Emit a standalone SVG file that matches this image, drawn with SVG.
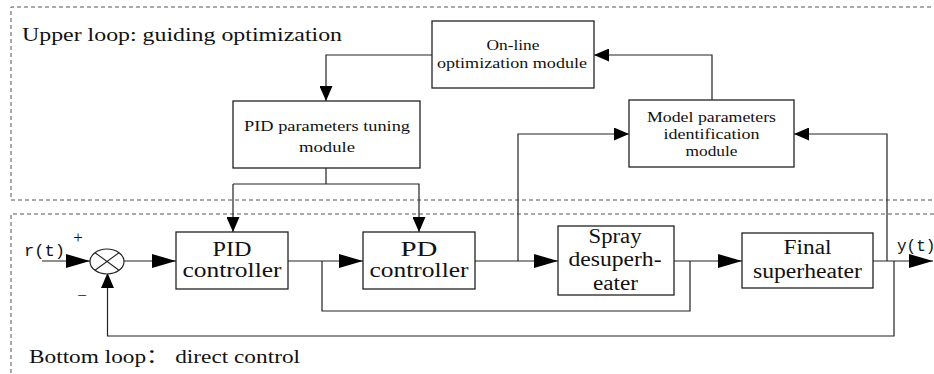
<svg xmlns="http://www.w3.org/2000/svg" width="934" height="374" viewBox="0 0 934 374">
  <style>
    .zone { fill: none; stroke: #555; stroke-width: 1; stroke-dasharray: 4 3; }
    .box { fill: #fff; stroke: #222; stroke-width: 1.3; }
    .wire { fill: none; stroke: #222; stroke-width: 1.2; }
    .big { marker-end: url(#headBig); }
    .small { marker-end: url(#headSmall); }
    .lbl { fill: #111; text-anchor: middle; }
    .main { font-size: 20px; }
    .sub { font-size: 15.5px; }
    .zoneTitle { font-size: 19px; fill: #111; }
    .sig { font-size: 16px; fill: #111; }
  </style>
  <defs>
    <marker id="headBig" markerUnits="userSpaceOnUse" markerWidth="24" markerHeight="14" refX="24" refY="7" orient="auto">
      <path d="M0,0 L24,7 L0,14 z" fill="#000"/>
    </marker>
    <marker id="headSmall" markerUnits="userSpaceOnUse" markerWidth="15" markerHeight="13" refX="15" refY="6.5" orient="auto">
      <path d="M0,0 L15,6.5 L0,13 z" fill="#000"/>
    </marker>
  </defs>

  <!-- dashed zones -->
  <g id="zones" font-family="'Liberation Serif', 'Times New Roman', 'Noto Sans CJK SC', serif">
    <path class="zone" d="M931,7 H11 V200 H934"/>
    <path class="zone" d="M934,214 H11 V374"/>
    <text class="zoneTitle" x="22" y="40.5" textLength="320" lengthAdjust="spacingAndGlyphs">Upper loop: guiding optimization</text>
    <text class="zoneTitle" x="29" y="363" textLength="271" lengthAdjust="spacingAndGlyphs">Bottom loop：  direct control</text>
  </g>

  <!-- connectors -->
  <g id="connectors">
    <!-- forward path -->
    <line class="wire big" x1="42" y1="261" x2="90" y2="261"/>
    <line class="wire big" x1="124" y1="261" x2="176" y2="261"/>
    <line class="wire big" x1="288" y1="261" x2="363" y2="261"/>
    <line class="wire big" x1="475" y1="261" x2="558" y2="261"/>
    <line class="wire big" x1="674" y1="261" x2="742" y2="261"/>
    <line class="wire big" x1="873" y1="261" x2="933" y2="261"/>
    <!-- inner bypass loop -->
    <path class="wire" d="M322,261 V311 H690 V261"/>
    <!-- outer feedback -->
    <path class="wire small" d="M894,261 V336 H107.5 V273"/>
    <!-- identification inputs -->
    <path class="wire small" d="M518,261 V134 H629"/>
    <path class="wire small" d="M887,261 V134 H794"/>
    <!-- upper loop -->
    <path class="wire small" d="M712,100 V55 H594"/>
    <path class="wire small" d="M432,55 H326 V101"/>
    <path class="wire" d="M326,168 V184"/>
    <path class="wire small" d="M233,184 H419 V232"/>
    <line class="wire small" x1="233" y1="184" x2="233" y2="232"/>
  </g>

  <!-- summing junction -->
  <g id="sum" font-family="'Liberation Serif', 'Times New Roman', serif">
    <ellipse cx="107" cy="261.5" rx="17" ry="12.5" fill="#fff" stroke="#222" stroke-width="1.2"/>
    <path d="M95,252.7 L119,270.3 M119,252.7 L95,270.3" stroke="#222" stroke-width="1.1"/>
    <text class="sig" x="24" y="256" textLength="41" lengthAdjust="spacingAndGlyphs" font-family="'Liberation Mono', 'Courier New', monospace">r(t)</text>
    <text class="lbl" x="78" y="243" font-size="17">+</text>
    <text class="lbl" x="82" y="301" font-size="17">−</text>
  </g>

  <g id="online" font-family="'Liberation Serif', 'Times New Roman', serif">
    <rect class="box" x="432" y="21" width="162" height="67"/>
    <text class="lbl sub" x="513" y="50" textLength="53" lengthAdjust="spacingAndGlyphs">On-line</text>
    <text class="lbl sub" x="512" y="68" textLength="150" lengthAdjust="spacingAndGlyphs">optimization module</text>
  </g>

  <g id="tuning" font-family="'Liberation Serif', 'Times New Roman', serif">
    <rect class="box" x="233" y="101" width="187" height="67"/>
    <text class="lbl sub" x="327" y="131" textLength="166" lengthAdjust="spacingAndGlyphs">PID parameters tuning</text>
    <text class="lbl sub" x="327" y="152" textLength="56" lengthAdjust="spacingAndGlyphs">module</text>
  </g>

  <g id="identification" font-family="'Liberation Serif', 'Times New Roman', serif">
    <rect class="box" x="629" y="100" width="165" height="67"/>
    <text class="lbl sub" x="711.5" y="121.5" textLength="129" lengthAdjust="spacingAndGlyphs">Model parameters</text>
    <text class="lbl sub" x="711.5" y="138.5" textLength="96" lengthAdjust="spacingAndGlyphs">identification</text>
    <text class="lbl sub" x="711.5" y="156" textLength="52" lengthAdjust="spacingAndGlyphs">module</text>
  </g>

  <g id="pid" font-family="'Liberation Serif', 'Times New Roman', serif">
    <rect class="box" x="176" y="232" width="112" height="57"/>
    <text class="lbl main" x="232" y="256" textLength="39" lengthAdjust="spacingAndGlyphs">PID</text>
    <text class="lbl main" x="232" y="277" textLength="99" lengthAdjust="spacingAndGlyphs">controller</text>
  </g>

  <g id="pd" font-family="'Liberation Serif', 'Times New Roman', serif">
    <rect class="box" x="363" y="232" width="112" height="57"/>
    <text class="lbl main" x="419" y="256" textLength="37" lengthAdjust="spacingAndGlyphs">PD</text>
    <text class="lbl main" x="419" y="277" textLength="99" lengthAdjust="spacingAndGlyphs">controller</text>
  </g>

  <g id="spray" font-family="'Liberation Serif', 'Times New Roman', serif">
    <rect class="box" x="558" y="226" width="116" height="69"/>
    <text class="lbl main" x="615" y="243" textLength="53" lengthAdjust="spacingAndGlyphs">Spray</text>
    <text class="lbl main" x="615" y="265.5" textLength="93" lengthAdjust="spacingAndGlyphs">desuperh-</text>
    <text class="lbl main" x="615.5" y="289.5" textLength="45" lengthAdjust="spacingAndGlyphs">eater</text>
  </g>

  <g id="final" font-family="'Liberation Serif', 'Times New Roman', serif">
    <rect class="box" x="742" y="233" width="131" height="55"/>
    <text class="lbl main" x="807.5" y="254" textLength="48" lengthAdjust="spacingAndGlyphs">Final</text>
    <text class="lbl main" x="807.5" y="278" textLength="109" lengthAdjust="spacingAndGlyphs">superheater</text>
  </g>

  <g id="output" font-family="'Liberation Mono', 'Courier New', monospace">
    <text class="sig" x="897" y="251">y(t)</text>
  </g>
</svg>
